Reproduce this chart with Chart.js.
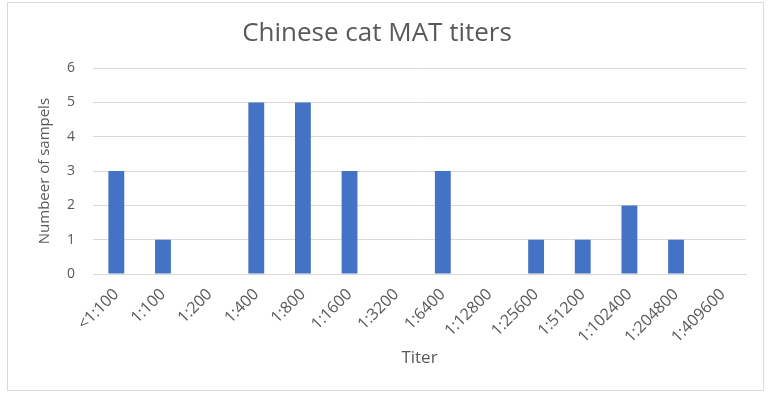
<!DOCTYPE html>
<html>
<head>
<meta charset="utf-8">
<script src="https://cdn.jsdelivr.net/npm/chart.js@4.4.1/dist/chart.umd.min.js"></script>
<style>
  html, body { margin: 0; padding: 0; background: #ffffff; }
  .frame {
    position: absolute; left: 7px; top: 2px;
    width: 755px; height: 387px;
    border: 1px solid #d9d9d9;
  }
</style>
</head>
<body>
<div class="frame"><canvas id="titerChart" width="755" height="387"></canvas></div>
<script>
// Data
const titerLabels = ['<1:100', '1:100', '1:200', '1:400', '1:800', '1:1600', '1:3200',
    '1:6400', '1:12800', '1:25600', '1:51200', '1:102400', '1:204800', '1:409600'];
const sampleCounts = [3, 1, 0, 5, 5, 3, 0, 3, 0, 1, 1, 2, 1, 0];
const yTicks = [0, 1, 2, 3, 4, 5, 6];

const textColor = '#595959';
const fontFamily = "'Open Sans', 'Noto Sans', sans-serif";

const ctx = document.getElementById('titerChart').getContext('2d');
new Chart(ctx, {
    type: 'bar',
    data: {
        labels: titerLabels,
        datasets: [{
            label: 'Numbeer of sampels',
            data: sampleCounts,
            backgroundColor: '#4472c4',
            barPercentage: 0.34,
            categoryPercentage: 1.0
        }]
    },
    options: {
        responsive: false,
        animation: false,
        layout: { padding: { left: 0, right: 17, top: 0, bottom: 0 } },
        plugins: {
            legend: { display: false },
            tooltip: { enabled: false },
            title: {
                display: true,
                text: 'Chinese cat MAT titers',
                color: textColor,
                font: { family: fontFamily, size: 26, weight: 'normal' },
                padding: { top: 15, bottom: 19 }
            }
        },
        scales: {
            x: {
                grid: { display: false, drawTicks: false },
                border: { color: '#d9d9d9', width: 1 },
                ticks: {
                    color: textColor,
                    font: { family: fontFamily, size: 16 },
                    minRotation: 45,
                    maxRotation: 45,
                    autoSkip: false,
                    padding: 11
                },
                title: {
                    display: true,
                    text: 'Titer',
                    color: textColor,
                    font: { family: fontFamily, size: 17 },
                    padding: { top: 0, bottom: 22 }
                },
                afterFit: (scale) => { scale.height = 116; }
            },
            y: {
                min: 0,
                max: 6,
                grid: { color: '#d9d9d9', drawTicks: false },
                border: { display: false },
                afterBuildTicks: (scale) => { scale.ticks = yTicks.map(v => ({ value: v })); },
                ticks: {
                    color: textColor,
                    font: { family: fontFamily, size: 14 },
                    padding: 18
                },
                title: {
                    display: true,
                    text: 'Numbeer of sampels',
                    color: textColor,
                    font: { family: fontFamily, size: 15 },
                    padding: { top: 28, bottom: 0 }
                },
                afterFit: (scale) => { scale.width = 85; }
            }
        }
    }
});
</script>
</body>
</html>
